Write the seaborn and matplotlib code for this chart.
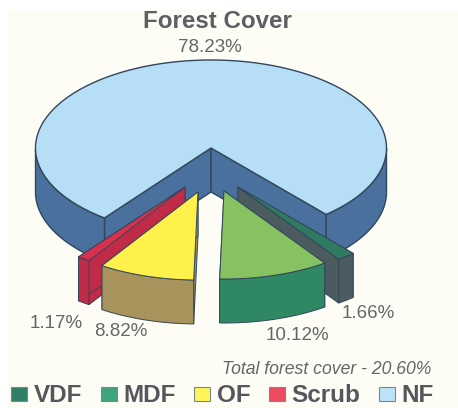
import numpy as np
import matplotlib
matplotlib.use("Agg")
import matplotlib.pyplot as plt
from matplotlib.patches import Patch, Rectangle
import seaborn as sns

# Data
categories = ["VDF", "MDF", "OF", "Scrub", "NF"]
shares = [1.66, 10.12, 8.82, 1.17, 78.23]
title_text = "Forest Cover"
note_text = "Total forest cover - 20.60%"

# Style
top_colors = ["#2F7A60", "#86C262", "#FFF14C", "#D9304F", "#B6DEF6"]
side_colors = ["#4B5B60", "#2E8864", "#A9935C", "#C22B47", "#4A719D"]
legend_colors = ["#2F8066", "#3FA37E", "#FFF55A", "#EE4A62", "#BDE3F8"]
explode = [(27, 39), (13, 43), (-13, 44), (-26, 39), (0, 0)]
label_xy = [(368, 313), (297, 335), (121, 332), (56, 324), (210, 47)]
draw_order = [4, 3, 0, 2, 1]
CX, CY, RX, RY, DEPTH = 211, 148, 175.5, 88, 44
START = -49.0
EDGE = "#33475A"
TEXT = "#666669"

sns.set_theme(style="white")
plt.rcParams["font.family"] = ["Liberation Sans", "DejaVu Sans"]

fig = plt.figure(figsize=(4.58, 4.08), dpi=100, facecolor="white")
ax = fig.add_axes([0, 0, 1, 1])
ax.set_xlim(0, 458)
ax.set_ylim(408, 0)
ax.set_axis_off()
ax.add_patch(Rectangle((8, 10), 450, 398, fc="#FDFDF6", ec="none", zorder=0))


def rim_xy(cx, cy, deg):
    r = np.radians(deg)
    return cx + RX * np.cos(r), cy - RY * np.sin(r)


def draw_slice(a_start, a_end, off, top, side, z, lw):
    """Slice running clockwise on screen from a_start down to a_end (degrees)."""
    cx, cy = CX + off[0], CY + off[1]
    for a in (a_start, a_end):
        x, y = rim_xy(cx, cy, a)
        ax.fill([cx, x, x, cx], [cy, y, y + DEPTH, cy + DEPTH],
                fc=side, ec=EDGE, lw=lw, zorder=z)
    th = np.linspace(a_start, a_end, 300)
    wrapped = ((th + 180) % 360) - 180
    idx = np.flatnonzero(wrapped < 0)
    if idx.size:
        runs = np.split(idx, np.flatnonzero(np.diff(idx) > 1) + 1)
        for run in runs:
            x, y = rim_xy(cx, cy, th[run])
            ax.fill(np.r_[x, x[::-1]], np.r_[y, y[::-1] + DEPTH],
                    fc=side, ec=EDGE, lw=lw, zorder=z)
    x, y = rim_xy(cx, cy, th)
    ax.fill(np.r_[cx, x], np.r_[cy, y], fc=top, ec=EDGE, lw=lw,
            joinstyle="round", zorder=z)


sweeps = np.array(shares) / sum(shares) * 360
ends = START - np.cumsum(sweeps)
starts = np.r_[START, ends[:-1]]
for z, i in enumerate(draw_order, start=1):
    draw_slice(starts[i], ends[i], explode[i], top_colors[i], side_colors[i], z,
               1.0 if i == 4 else 0.7)

ax.text(217, 22, title_text, ha="center", va="center", fontsize=17.4,
        fontweight="bold", color="#5E5F63", zorder=10)
for v, (x, y) in zip(shares, label_xy):
    ax.text(x, y, f"{v:.2f}%", ha="center", va="center", fontsize=13.5,
            color=TEXT, zorder=10)
ax.text(431, 370, note_text, ha="right", va="center", fontsize=12.7,
        style="italic", color=TEXT, zorder=10)

handles = [Patch(fc=c, ec="#7A8A80", lw=0.8) for c in legend_colors]
fs = 17.5
fs_px = fs / 0.72
leg = ax.legend(handles, categories, ncol=5, frameon=False, fontsize=fs,
                loc="lower left", bbox_to_anchor=(11, 407.5),
                bbox_transform=ax.transData, borderpad=0, borderaxespad=0,
                handlelength=16 / fs_px, handleheight=13 / fs_px,
                handletextpad=7 / fs_px, columnspacing=18 / fs_px,
                labelspacing=0)
for t in leg.get_texts():
    t.set_fontweight("bold")
    t.set_color("#55575C")

fig.savefig("out.png", dpi=100)
